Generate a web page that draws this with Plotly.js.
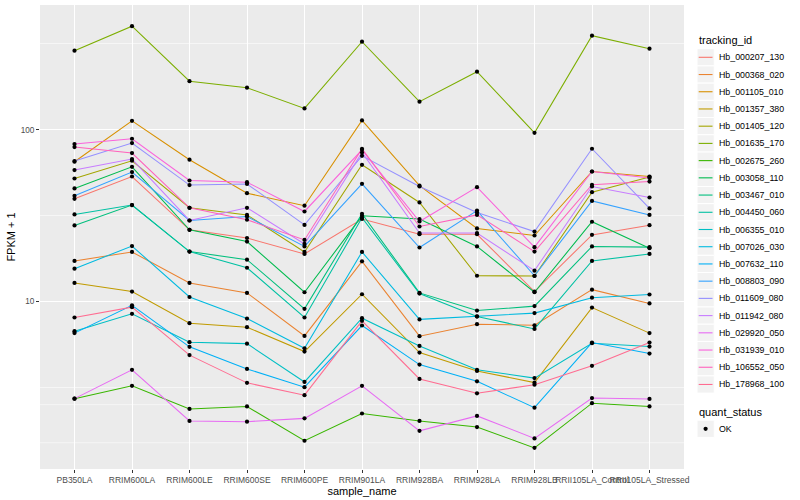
<!DOCTYPE html>
<html>
<head>
<meta charset="utf-8">
<script src="https://cdn.plot.ly/plotly-3.0.1.min.js"></script>
<style>html,body{margin:0;padding:0;background:#fff;}#chart{width:800px;height:500px;}</style>
</head>
<body>
<div id="chart"></div>
<script>
const categories = ['PB350LA','RRIM600LA','RRIM600LE','RRIM600SE','RRIM600PE','RRIM901LA','RRIM928BA','RRIM928LA','RRIM928LB','RRII105LA_Control','RRII105LA_Stressed'];

const Hb_000207_130 = [39.6, 53.4, 26.1, 23.4, 18.9, 30.2, 24.6, 24.6, 11.4, 24.4, 27.8];
const Hb_000368_020 = [17.2, 19.4, 12.8, 11.2, 6.29, 17.1, 6.27, 7.36, 7.25, 11.7, 9.73];
const Hb_001105_010 = [65.1, 112.8, 66.9, 42.7, 36.1, 113.3, 47.2, 26.6, 24.2, 57.1, 53.4];
const Hb_001357_380 = [12.8, 11.4, 7.46, 7.07, 5.10, 11.0, 5.03, 3.93, 3.36, 9.20, 6.53];
const Hb_001405_120 = [52.0, 66.0, 35.1, 31.9, 19.4, 62.5, 37.7, 14.1, 14.05, 43.3, 53.0];
const Hb_001635_170 = [288.8, 401.4, 191.8, 175.8, 133.1, 326, 145.7, 217.9, 96.0, 353.3, 296.7];
const Hb_002675_260 = [2.71, 3.22, 2.36, 2.44, 1.54, 2.22, 2.01, 1.85, 1.40, 2.55, 2.44];
const Hb_003058_110 = [45.5, 60.8, 26.1, 22.3, 11.3, 31.5, 30.2, 20.9, 11.3, 29.1, 20.4];
const Hb_003467_010 = [27.7, 36.4, 19.5, 17.5, 9.04, 32.4, 11.2, 8.84, 9.38, 20.9, 20.7];
const Hb_004450_060 = [32.1, 36.4, 19.5, 15.7, 8.05, 30.7, 11.1, 8.15, 6.91, 17.2, 18.9];
const Hb_006355_010 = [6.70, 8.46, 5.78, 5.67, 3.39, 7.98, 5.50, 3.99, 3.57, 5.70, 5.45];
const Hb_007026_030 = [15.5, 21.0, 10.6, 7.94, 5.33, 19.4, 7.85, 8.18, 8.54, 10.5, 10.96];
const Hb_007632_110 = [6.53, 9.48, 5.43, 4.04, 3.16, 7.23, 4.28, 3.42, 2.40, 5.75, 4.96];
const Hb_008803_090 = [41.2, 56.7, 29.6, 31.2, 20.9, 48.4, 20.6, 33.8, 14.1, 38.5, 31.9];
const Hb_011609_080 = [65.7, 83.6, 47.6, 48.3, 27.9, 70.5, 46.7, 32.9, 25.5, 77.5, 34.8];
const Hb_011942_080 = [58.2, 67.5, 29.6, 35.1, 21.6, 73.7, 25.0, 25.0, 15.1, 46.7, 40.3];
const Hb_029920_050 = [2.71, 3.99, 2.01, 1.99, 2.08, 3.22, 1.76, 2.15, 1.59, 2.73, 2.70];
const Hb_031939_010 = [82.5, 88.6, 50.6, 49.5, 33.4, 76.4, 29.2, 46.3, 20.7, 57.1, 52.3];
const Hb_106552_050 = [79.3, 73.1, 35.1, 29.9, 22.8, 77.5, 27.3, 31.9, 19.5, 47.8, 49.9];
const Hb_178968_100 = [8.05, 9.25, 4.86, 3.35, 2.84, 7.70, 3.53, 2.91, 3.27, 4.21, 5.75];

const trackingIds = ['Hb_000207_130','Hb_000368_020','Hb_001105_010','Hb_001357_380','Hb_001405_120','Hb_001635_170','Hb_002675_260','Hb_003058_110','Hb_003467_010','Hb_004450_060','Hb_006355_010','Hb_007026_030','Hb_007632_110','Hb_008803_090','Hb_011609_080','Hb_011942_080','Hb_029920_050','Hb_031939_010','Hb_106552_050','Hb_178968_100'];
const seriesValues = [Hb_000207_130,Hb_000368_020,Hb_001105_010,Hb_001357_380,Hb_001405_120,Hb_001635_170,Hb_002675_260,Hb_003058_110,Hb_003467_010,Hb_004450_060,Hb_006355_010,Hb_007026_030,Hb_007632_110,Hb_008803_090,Hb_011609_080,Hb_011942_080,Hb_029920_050,Hb_031939_010,Hb_106552_050,Hb_178968_100];
const quantStatus = ['OK'];
const yTickVals = [10, 100];
const yTickText = ['10', '100'];
const yMinorVals = [3.1623, 31.623, 316.23];

const colors = ['#F8766D','#EA8331','#D89000','#C09B00','#A3A500','#7CAE00','#39B600','#00BB4E','#00BF7D','#00C1A3','#00BFC4','#00BAE0','#00B0F6','#35A2FF','#9590FF','#C77CFF','#E76BF3','#FA62DB','#FF62BC','#FF6C91'];

const FONT = 'Liberation Sans, Arial, Helvetica, sans-serif';

const traces = [];
seriesValues.forEach((vals, i) => {
  traces.push({
    type: 'scatter', mode: 'lines', x: categories, y: vals, name: trackingIds[i],
    line: {color: colors[i], width: 1.05}, showlegend: false, hoverinfo: 'x+y+name'
  });
});
seriesValues.forEach((vals, i) => {
  traces.push({
    type: 'scatter', mode: 'markers', x: categories, y: vals, name: quantStatus[0],
    marker: {color: '#000000', size: 4.2, symbol: 'circle', line: {width: 0}}, showlegend: false, hoverinfo: 'skip'
  });
});

// Plot area in pixels
const PL = 40, PR = 684, PT = 5, PB = 469;
const px = v => (v - PL) / (PR - PL);
const py = v => (PB - v) / (PB - PT);

const shapes = [];
const annotations = [];

// minor horizontal grid lines (log axis: shape coords are log10 values)
yMinorVals.forEach(v => {
  shapes.push({type:'line', xref:'paper', yref:'y', x0:0, x1:1, y0:Math.log10(v), y1:Math.log10(v), line:{color:'#FFFFFF', width:0.55}, layer:'below'});
});

const KEY = 17.22;
const keyX0 = 697, keyX1 = 697 + KEY;
const firstY = 57.3;

annotations.push({xref:'paper', yref:'paper', x: px(697), y: py(40), xanchor:'left', yanchor:'middle', text:'tracking_id', showarrow:false, font:{family:FONT, size:11, color:'#000'}});
trackingIds.forEach((id, i) => {
  const cy = firstY + KEY * i;
  shapes.push({type:'rect', xref:'paper', yref:'paper', x0:px(keyX0), x1:px(keyX1), y0:py(cy - KEY/2), y1:py(cy + KEY/2), fillcolor:'#F2F2F2', line:{color:'#FFFFFF', width:1}, layer:'above'});
  shapes.push({type:'line', xref:'paper', yref:'paper', x0:px(keyX0 + 1.7), x1:px(keyX1 - 1.7), y0:py(cy), y1:py(cy), line:{color:colors[i], width:1.1}, layer:'above'});
  annotations.push({xref:'paper', yref:'paper', x: px(717), y: py(cy), xanchor:'left', yanchor:'middle', text:id, showarrow:false, font:{family:FONT, size:8.8, color:'#000'}});
});
annotations.push({xref:'paper', yref:'paper', x: px(697), y: py(411.5), xanchor:'left', yanchor:'middle', text:'quant_status', showarrow:false, font:{family:FONT, size:11, color:'#000'}});
{
  const cy = 428.8;
  shapes.push({type:'rect', xref:'paper', yref:'paper', x0:px(keyX0), x1:px(keyX1), y0:py(cy - KEY/2), y1:py(cy + KEY/2), fillcolor:'#F2F2F2', line:{color:'#FFFFFF', width:1}, layer:'above'});
  const cx = (keyX0 + keyX1) / 2, r = 2.1;
  shapes.push({type:'circle', xref:'paper', yref:'paper', x0:px(cx - r), x1:px(cx + r), y0:py(cy - r), y1:py(cy + r), fillcolor:'#000', line:{color:'#000', width:0}, layer:'above'});
  annotations.push({xref:'paper', yref:'paper', x: px(717), y: py(cy), xanchor:'left', yanchor:'middle', text:quantStatus[0], showarrow:false, font:{family:FONT, size:8.8, color:'#000'}});
}

const layout = {
  width: 800, height: 500, autosize: false,
  margin: {l: PL, r: 800 - PR, t: PT, b: 500 - PB, pad: 0},
  paper_bgcolor: '#FFFFFF', plot_bgcolor: '#EBEBEB',
  font: {family: FONT, size: 9, color: '#000'},
  showlegend: false,
  xaxis: {
    type: 'category', categoryorder: 'array', categoryarray: categories,
    range: [-0.6, categories.length - 0.4],
    showgrid: true, gridcolor: '#FFFFFF', gridwidth: 1,
    zeroline: false, showline: false,
    ticks: 'outside', ticklen: 3, tickwidth: 1, tickcolor: '#333333',
    tickfont: {family: FONT, size: 8.5, color: '#4D4D4D'}, tickangle: 0,
    title: {text: 'sample_name', font: {family: FONT, size: 11, color: '#000'}, standoff: 0},
    automargin: false, fixedrange: true
  },
  yaxis: {
    type: 'log', range: [0.023, 2.727],
    tickmode: 'array', tickvals: yTickVals, ticktext: yTickText,
    showgrid: true, gridcolor: '#FFFFFF', gridwidth: 1,
    minor: {tickmode: 'array', tickvals: yMinorVals, showgrid: true, gridcolor: '#FFFFFF', gridwidth: 0.55, ticks: ''},
    zeroline: false, showline: false,
    ticks: 'outside', ticklen: 3, tickwidth: 1, tickcolor: '#333333',
    tickfont: {family: FONT, size: 8.2, color: '#4D4D4D'},
    title: {text: 'FPKM + 1', font: {family: FONT, size: 11, color: '#000'}, standoff: 2},
    automargin: false, fixedrange: true
  },
  shapes: shapes,
  annotations: annotations
};

Plotly.newPlot('chart', traces, layout, {staticPlot: true, displayModeBar: false});
</script>
</body>
</html>
